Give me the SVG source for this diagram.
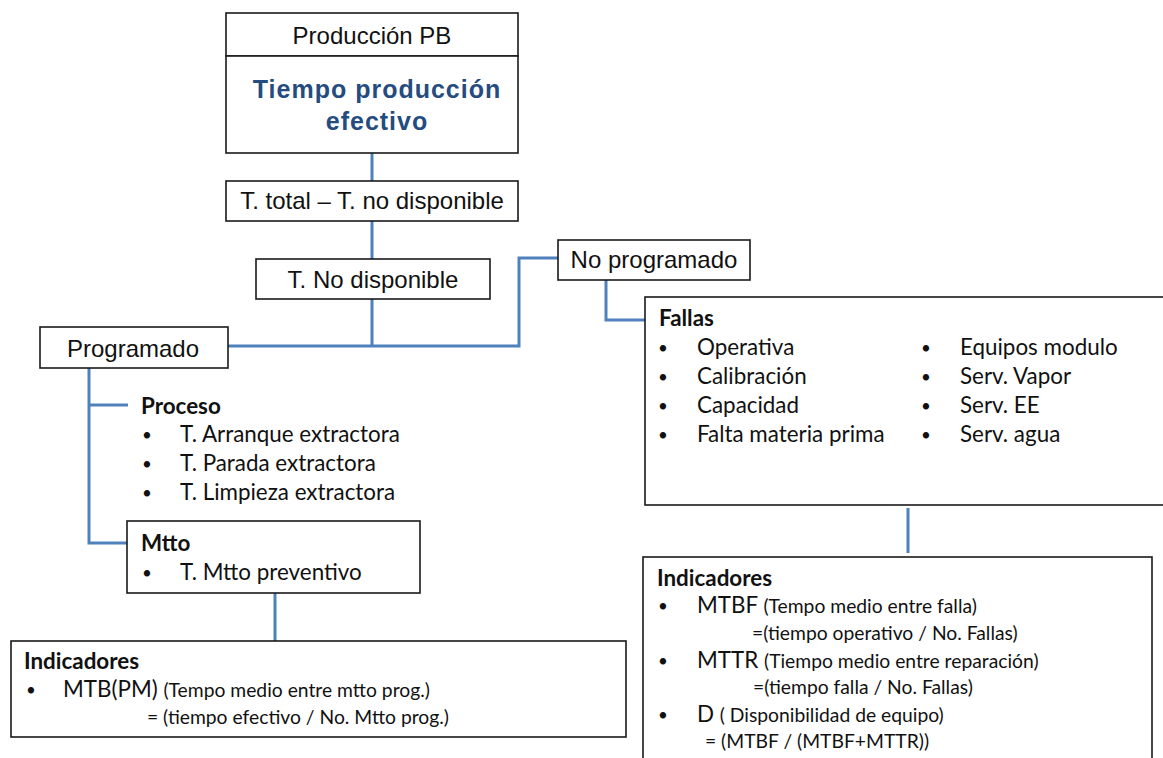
<svg xmlns="http://www.w3.org/2000/svg" width="1163" height="758" viewBox="0 0 1163 758">
<style>
.box{fill:#fff;stroke:#1a1a1a;stroke-width:1.6}
.a{font-family:"Liberation Sans",Arial,sans-serif;font-size:24px;fill:#111}
.c{font-family:Lato,"Noto Sans",sans-serif;font-size:22.4px;fill:#111}
.cs{font-family:Lato,"Noto Sans",sans-serif;font-size:19.3px;fill:#111}
.d{font-family:Lato,"Noto Sans",sans-serif;font-size:17px;fill:#111}
.b{font-weight:bold}
.conn{fill:none;stroke:#4F81BD;stroke-width:3}
</style>
<rect width="1163" height="758" fill="#fff"/>
<g id="connectors">
<path class="conn" d="M372 153V181"/>
<path class="conn" d="M372 221V259"/>
<path class="conn" d="M372 299V346"/>
<path class="conn" d="M228 346H519V258H558"/>
<path class="conn" d="M606 280V320H645"/>
<path class="conn" d="M89 368V543H127"/>
<path class="conn" d="M89 405H128"/>
<path class="conn" d="M275 593V641"/>
<path class="conn" d="M908 508V553"/>
</g>
<g id="produccion">
<rect class="box" x="226" y="13" width="292" height="43"/>
<text class="a" x="372" y="44" text-anchor="middle">Producción PB</text>
</g>
<g id="tiempo-efectivo">
<rect class="box" x="226" y="56" width="292" height="97"/>
<text x="377" y="98" text-anchor="middle" font-family="Liberation Sans,Arial,sans-serif" font-size="25" font-weight="bold" letter-spacing="1" fill="#254C80">Tiempo producción</text>
<text x="377" y="130" text-anchor="middle" font-family="Liberation Sans,Arial,sans-serif" font-size="25" font-weight="bold" letter-spacing="1" fill="#254C80">efectivo</text>
</g>
<g id="t-total">
<rect class="box" x="226" y="181" width="292" height="40"/>
<text class="a" x="372" y="209" text-anchor="middle">T. total – T. no disponible</text>
</g>
<g id="t-no-disponible">
<rect class="box" x="256" y="259" width="234" height="40"/>
<text class="a" x="373" y="288" text-anchor="middle">T. No disponible</text>
</g>
<g id="programado">
<rect class="box" x="40" y="327" width="188" height="41"/>
<text class="a" x="133" y="357" text-anchor="middle">Programado</text>
</g>
<g id="no-programado">
<rect class="box" x="558" y="240" width="192" height="40"/>
<text class="a" x="654" y="268" text-anchor="middle">No programado</text>
</g>
<g id="proceso">
<text class="c b" x="141" y="414">Proceso</text>
<text class="d" x="142" y="441">•</text><text class="c" x="180" y="442">T. Arranque extractora</text>
<text class="d" x="142" y="470">•</text><text class="c" x="180" y="471">T. Parada extractora</text>
<text class="d" x="142" y="499">•</text><text class="c" x="180" y="500">T. Limpieza extractora</text>
</g>
<g id="mtto">
<rect class="box" x="127" y="521" width="293" height="72"/>
<text class="c b" x="141" y="551">Mtto</text>
<text class="d" x="142" y="579">•</text><text class="c" x="180" y="580">T. Mtto preventivo</text>
</g>
<g id="indicadores-izq">
<rect class="box" x="11" y="641" width="615" height="96"/>
<text class="c b" x="24" y="669">Indicadores</text>
<text class="d" x="26" y="696">•</text><text class="c" x="63" y="697">MTB(PM) <tspan class="cs">(Tempo medio entre mtto prog.)</tspan></text>
<text class="cs" x="147" y="724">= (tiempo efectivo / No. Mtto prog.)</text>
</g>
<g id="fallas">
<rect class="box" x="645" y="297" width="530" height="208"/>
<text class="c b" x="659" y="326">Fallas</text>
<text class="d" x="658" y="354">•</text><text class="c" x="697" y="355">Operativa</text>
<text class="d" x="658" y="383">•</text><text class="c" x="697" y="384">Calibración</text>
<text class="d" x="658" y="412">•</text><text class="c" x="697" y="413">Capacidad</text>
<text class="d" x="658" y="441">•</text><text class="c" x="697" y="442">Falta materia prima</text>
<text class="d" x="921" y="354">•</text><text class="c" x="960" y="355">Equipos modulo</text>
<text class="d" x="921" y="383">•</text><text class="c" x="960" y="384">Serv. Vapor</text>
<text class="d" x="921" y="412">•</text><text class="c" x="960" y="413">Serv. EE</text>
<text class="d" x="921" y="441">•</text><text class="c" x="960" y="442">Serv. agua</text>
</g>
<g id="indicadores-der">
<rect class="box" x="643" y="557" width="509" height="220"/>
<text class="c b" x="657" y="586">Indicadores</text>
<text class="d" x="658" y="612">•</text><text class="c" x="697" y="613">MTBF <tspan class="cs">(Tempo medio entre falla)</tspan></text>
<text class="cs" x="752" y="640">=(tiempo operativo / No. Fallas)</text>
<text class="d" x="658" y="667">•</text><text class="c" x="697" y="668">MTTR  <tspan class="cs">(Tiempo medio entre reparación)</tspan></text>
<text class="cs" x="753" y="694">=(tiempo falla / No. Fallas)</text>
<text class="d" x="658" y="721">•</text><text class="c" x="697" y="722">D <tspan class="cs">( Disponibilidad de equipo)</tspan></text>
<text class="cs" x="705" y="748">= (MTBF / (MTBF+MTTR))</text>
</g>
</svg>
